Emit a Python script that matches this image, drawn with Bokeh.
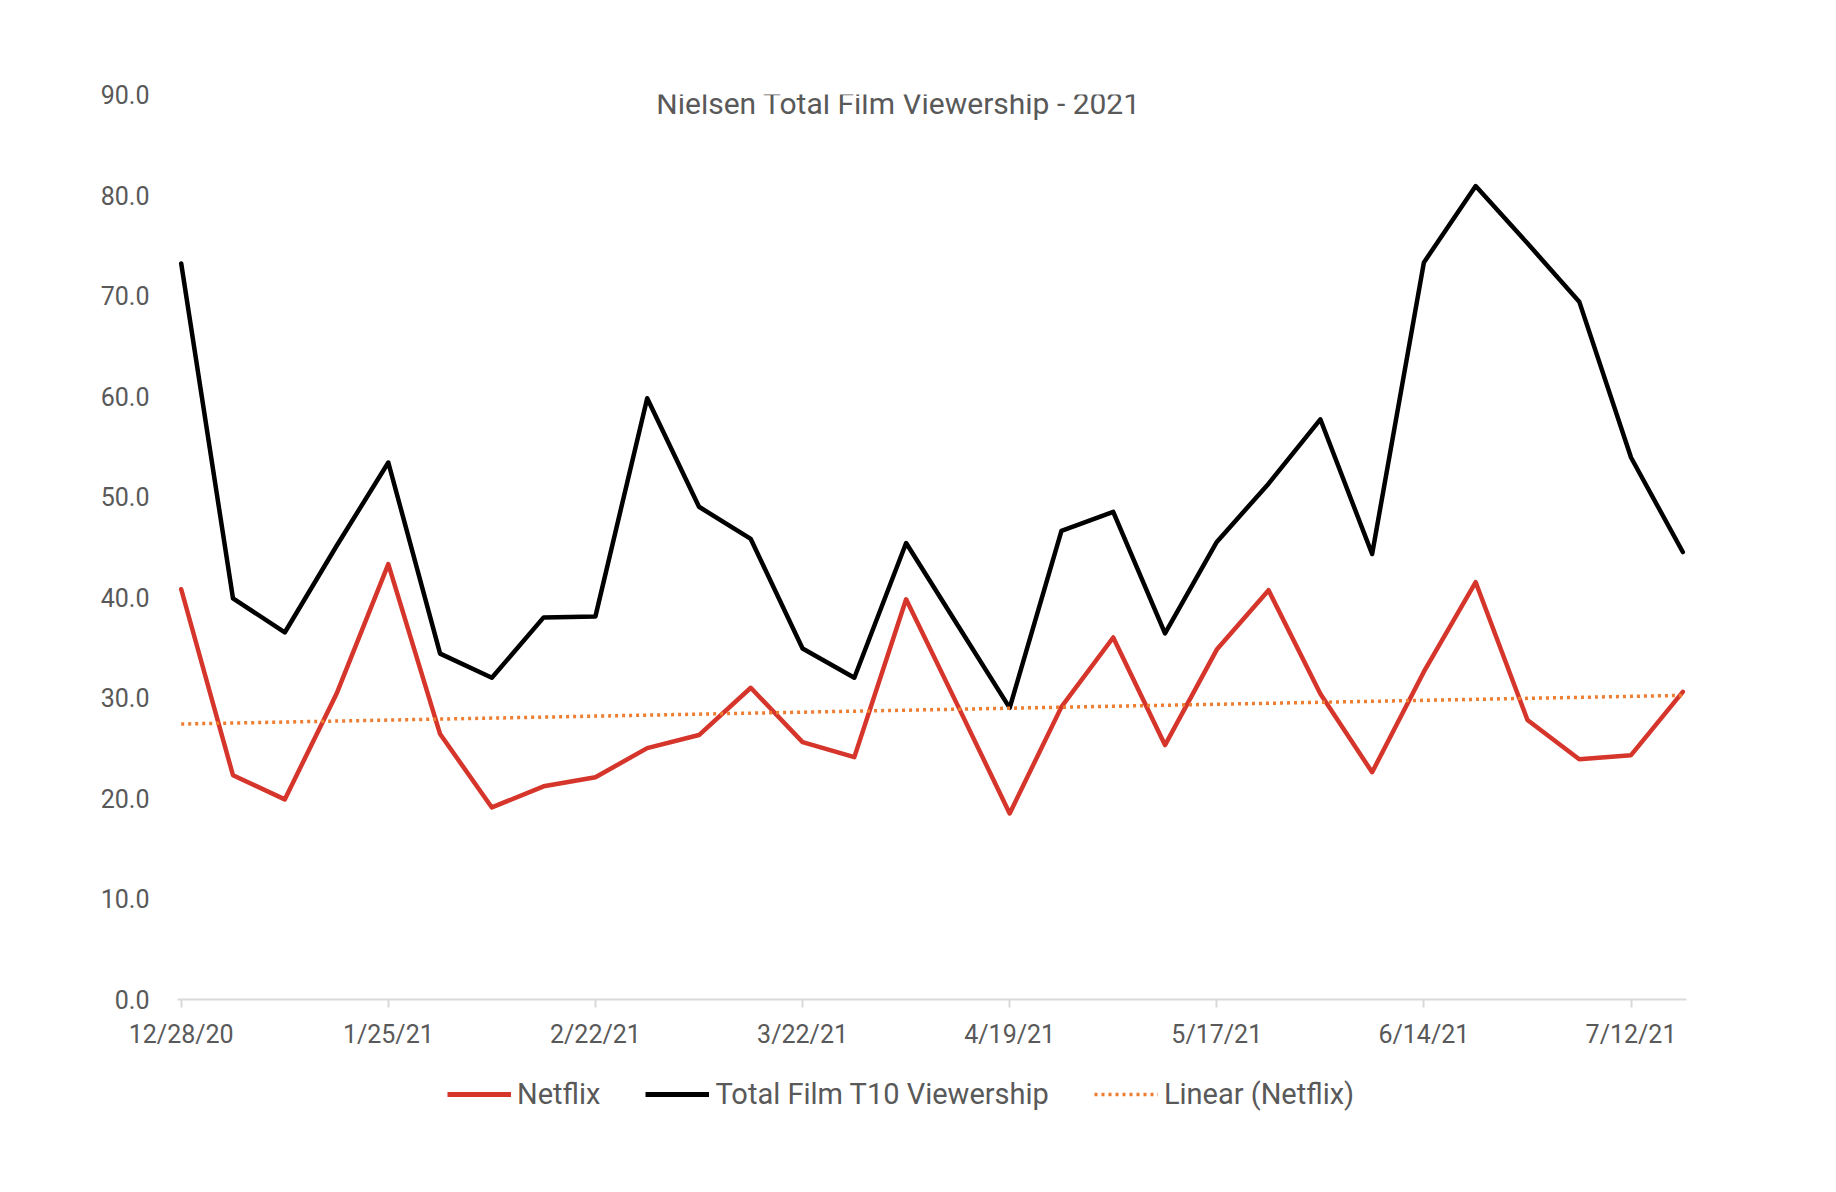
import numpy as np
import pandas as pd
from bokeh.plotting import figure
from bokeh.layouts import column
from bokeh.models import (ColumnDataSource, FixedTicker, NumeralTickFormatter,
                          DatetimeTickFormatter, Legend, LegendItem, Label, Range1d)
from bokeh.embed import file_html
from bokeh.resources import INLINE

# ---------------- data ----------------
week_dates = ["2020-12-28", "2021-01-04", "2021-01-11", "2021-01-18", "2021-01-25",
              "2021-02-01", "2021-02-08", "2021-02-15", "2021-02-22", "2021-03-01",
              "2021-03-08", "2021-03-15", "2021-03-22", "2021-03-29", "2021-04-05",
              "2021-04-12", "2021-04-19", "2021-04-26", "2021-05-03", "2021-05-10",
              "2021-05-17", "2021-05-24", "2021-05-31", "2021-06-07", "2021-06-14",
              "2021-06-21", "2021-06-28", "2021-07-05", "2021-07-12", "2021-07-19"]

netflix = [40.8, 22.3, 19.9, 30.4, 43.3, 26.4, 19.1, 21.2, 22.1, 25.0,
           26.3, 31.0, 25.6, 24.1, 39.8, 29.2, 18.5, 29.1, 36.0, 25.3,
           34.8, 40.7, 30.4, 22.6, 32.6, 41.5, 27.8, 23.9, 24.3, 30.6]

total_t10 = [73.2, 39.9, 36.5, 45.1, 53.4, 34.4, 32.0, 38.0, 38.1, 59.8,
             49.0, 45.8, 34.9, 32.0, 45.4, 37.2, 29.0, 46.6, 48.5, 36.4,
             45.5, 51.3, 57.7, 44.3, 73.3, 80.9, 75.2, 69.4, 53.9, 44.5]

tick_dates = ["2020-12-28", "2021-01-25", "2021-02-22", "2021-03-22",
              "2021-04-19", "2021-05-17", "2021-06-14", "2021-07-12"]
y_ticks = [0, 10, 20, 30, 40, 50, 60, 70, 80, 90]

title_text = "Nielsen Total Film Viewership - 2021"
series_names = ["Netflix", "Total Film T10 Viewership", "Linear (Netflix)"]
series_colors = ["#d5352a", "#000000", "#ed7d31"]

# ---------------- derived ----------------
dates = pd.to_datetime(week_dates)
idx = np.arange(len(netflix))
slope, intercept = np.polyfit(idx, np.array(netflix), 1)
trend = intercept + slope * idx

src = ColumnDataSource(dict(date=dates, netflix=netflix, total=total_t10, trend=trend))

FONT = "Roboto"
GREY = "#595959"
half_day = pd.Timedelta(hours=12)
TREND_DASH = "3 4"

p = figure(width=1820, height=1060, x_axis_type="datetime",
           output_backend="svg", toolbar_location=None,
           x_range=Range1d(dates[0] - half_day, dates[-1] + half_day),
           y_range=Range1d(0, 90),
           min_border_left=177, min_border_right=134,
           min_border_top=94, min_border_bottom=61)
p.outline_line_color = None
p.background_fill_color = "white"
p.border_fill_color = "white"
p.xgrid.visible = False
p.ygrid.visible = False

p.line("date", "netflix", source=src, line_color=series_colors[0], line_width=4.5,
       line_join="round", line_cap="round")
p.line("date", "total", source=src, line_color=series_colors[1], line_width=4.5,
       line_join="round", line_cap="round")
p.line("date", "trend", source=src, line_color=series_colors[2], line_width=3.5,
       line_dash=TREND_DASH)

# y axis
ya = p.yaxis[0]
ya.ticker = FixedTicker(ticks=y_ticks)
ya.formatter = NumeralTickFormatter(format="0.0")
ya.axis_line_color = None
ya.major_tick_line_color = None
ya.minor_tick_line_color = None
ya.major_label_standoff = 22
ya.major_label_text_font = FONT
ya.major_label_text_font_size = "25px"
ya.major_label_text_color = GREY

# x axis
xa = p.xaxis[0]
xa.ticker = FixedTicker(ticks=[pd.Timestamp(d).value / 1e6 for d in tick_dates])
fmt = "%-m/%-d/%y"
xa.formatter = DatetimeTickFormatter(days=fmt, months=fmt, years=fmt, hours=fmt,
                                     context=None)
xa.axis_line_color = "#d9d9d9"
xa.axis_line_width = 2
xa.major_tick_line_color = "#d9d9d9"
xa.major_tick_line_width = 2
xa.major_tick_in = 0
xa.major_tick_out = 8
xa.minor_tick_line_color = None
xa.major_label_standoff = 12
xa.major_label_text_font = FONT
xa.major_label_text_font_size = "25px"
xa.major_label_text_color = GREY

# title
p.add_layout(Label(x=721, y=896, x_units="screen", y_units="screen",
                   text=title_text, text_align="center", text_baseline="alphabetic",
                   text_font=FONT, text_font_size="30px", text_color=GREY))

# ---------------- legend strip below the chart ----------------
p2 = figure(width=1820, height=116, output_backend="svg", toolbar_location=None,
            x_range=Range1d(0, 1), y_range=Range1d(0, 1),
            x_axis_location=None, y_axis_location=None, min_border=0)
p2.outline_line_color = None
p2.xgrid.visible = False
p2.ygrid.visible = False
nan_pair = [np.nan, np.nan]
l1 = p2.line(x=nan_pair, y=nan_pair, line_color=series_colors[0], line_width=5)
l2 = p2.line(x=nan_pair, y=nan_pair, line_color=series_colors[1], line_width=5)
l3 = p2.line(x=nan_pair, y=nan_pair, line_color=series_colors[2], line_width=3.5,
             line_dash=TREND_DASH)

legend = Legend(items=[LegendItem(label=series_names[0], renderers=[l1]),
                       LegendItem(label=series_names[1], renderers=[l2]),
                       LegendItem(label=series_names[2], renderers=[l3])],
                orientation="horizontal", location=(270, 65),
                border_line_color=None, background_fill_alpha=0,
                padding=0, margin=0, spacing=45, label_standoff=6,
                glyph_width=64, glyph_height=30,
                label_text_font=FONT, label_text_font_size="29px",
                label_text_color=GREY)
p2.add_layout(legend, "center")

layout = column(p, p2, spacing=0)
open("out.html", "w").write(file_html(layout, INLINE))
